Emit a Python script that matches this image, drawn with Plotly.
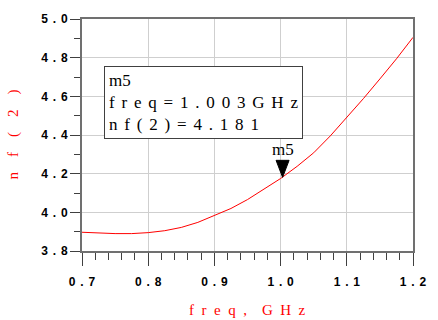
import plotly.graph_objects as go

# Noise figure sweep
freq_ghz = [0.700, 0.725, 0.750, 0.775, 0.800, 0.825, 0.850, 0.875, 0.900, 0.925,
            0.950, 0.975, 1.000, 1.025, 1.050, 1.075, 1.100, 1.125, 1.150, 1.175, 1.200]
nf2 = [3.897, 3.892, 3.890, 3.890, 3.895, 3.905, 3.922, 3.948, 3.982, 4.020,
       4.066, 4.120, 4.175, 4.238, 4.308, 4.395, 4.490, 4.588, 4.690, 4.794, 4.905]

# Marker m5
m5_freq = 1.003
m5_nf = 4.181

x_ticks = [0.7, 0.8, 0.9, 1.0, 1.1, 1.2]
y_ticks = [3.8, 4.0, 4.2, 4.4, 4.6, 4.8, 5.0]


def spaced(s, gap):
    """Spread characters apart with a fixed unicode space."""
    return gap.join(s)


TS = "\u2009\u2009"  # wide letter spacing used by the tick labels and readout
x_ticktext = [spaced(f"{v:.1f}", TS) for v in x_ticks]
y_ticktext = [spaced(f"{v:.1f}", TS) for v in y_ticks]

tick_font = dict(family="Liberation Sans", size=12, color="#000000", weight="bold")
serif = dict(family="Liberation Serif", size=17, color="#000000")
red_font = dict(family="Liberation Serif", size=15, color="#ff0000")

fig = go.Figure()
fig.add_trace(go.Scatter(x=freq_ghz, y=nf2, mode="lines",
                         line=dict(color="#ff0000", width=1), hoverinfo="skip"))

axis_common = dict(showline=True, linecolor="#707070", linewidth=2, mirror=True,
                   showgrid=True, gridcolor="#cfcfcf", gridwidth=1,
                   ticks="outside", tickcolor="#404040", tickwidth=1,
                   zeroline=False, tickfont=tick_font)

fig.update_xaxes(range=[0.7, 1.2], tickvals=x_ticks, ticktext=x_ticktext, ticklen=13,
                 ticklabelstandoff=6,
                 minor=dict(dtick=0.02, tick0=0.7, ticks="outside", ticklen=7,
                            tickcolor="#404040", showgrid=False),
                 **axis_common)
fig.update_yaxes(range=[3.8, 5.0], tickvals=y_ticks, ticktext=y_ticktext, ticklen=10,
                 minor=dict(dtick=0.1, tick0=3.8, ticks="outside", ticklen=6,
                            tickcolor="#404040", showgrid=False),
                 **axis_common)

# Marker triangle with its tip on the data point
fig.add_shape(type="path", xref="x", yref="y", xsizemode="pixel", ysizemode="pixel",
              xanchor=m5_freq, yanchor=m5_nf,
              path="M0,0 L-6.5,17 L6.5,17 Z",
              fillcolor="#000000", line=dict(color="#000000", width=1))
fig.add_annotation(x=m5_freq, y=m5_nf, xref="x", yref="y", text="m5", showarrow=False,
                   yanchor="bottom", yshift=16, font=serif)

# Marker readout box
readout = "<br>".join([
    "m5",
    spaced(f"freq={m5_freq:.3f}GHz", TS),
    spaced(f"nf(2)={m5_nf:.3f}", TS),
])
fig.add_annotation(xref="paper", yref="paper", x=0.067, y=0.798,
                   xanchor="left", yanchor="top", align="left", showarrow=False,
                   text=readout, font=serif, bordercolor="#404040", borderwidth=1,
                   borderpad=4, bgcolor="#ffffff")

# Axis titles
fig.add_annotation(xref="paper", yref="paper", x=0, y=0.5, xshift=-80,
                   text=spaced("nf(2)", "\u2003"), textangle=-90, showarrow=False,
                   font=red_font)
fig.add_annotation(xref="paper", yref="paper", x=0.5, y=0, yshift=-69,
                   text=spaced("freq,", "\u2002") + "\u2003" + spaced("GHz", "\u2002"),
                   showarrow=False, font=red_font)

fig.update_layout(width=438, height=320, margin=dict(l=82, r=15, t=18, b=69),
                  plot_bgcolor="#ffffff", paper_bgcolor="#ffffff", showlegend=False)

fig.write_html("out.html")
